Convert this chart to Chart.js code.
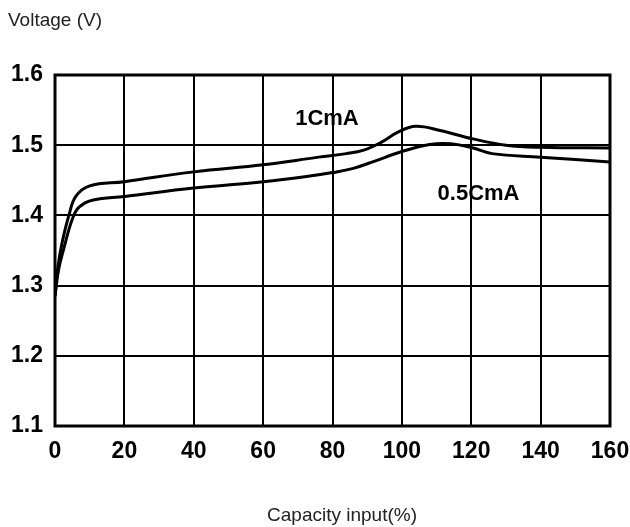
<!DOCTYPE html>
<html>
<head>
<meta charset="utf-8">
<script src="https://cdn.jsdelivr.net/npm/chart.js@4"></script>
<style>
html,body{margin:0;padding:0;background:#fff;}
#wrap{width:630px;height:527px;position:relative;}
</style>
</head>
<body>
<div id="wrap"><canvas id="c" width="630" height="527"></canvas></div>
<script>
// ---- data ----
const xTicks = [0, 20, 40, 60, 80, 100, 120, 140, 160];
const yTicks = [1.1, 1.2, 1.3, 1.4, 1.5, 1.6];

const cap1C = [0, 0.8, 2.0, 4.0, 6.0, 10, 20, 40, 60, 76, 84, 89, 94, 99, 104, 111, 120.5, 130, 140, 160];
const volt1C = [1.285, 1.325, 1.360, 1.400, 1.427, 1.442, 1.448, 1.462, 1.472, 1.483, 1.488, 1.493, 1.504, 1.519, 1.527, 1.521, 1.509, 1.500, 1.497, 1.496];

const cap05C = [0, 1.0, 2.5, 5.0, 7.0, 11, 20, 40, 60, 72, 80, 86, 92, 100, 108, 114, 120.5, 126, 140, 160];
const volt05C = [1.285, 1.322, 1.352, 1.395, 1.412, 1.422, 1.427, 1.439, 1.448, 1.455, 1.461, 1.467, 1.477, 1.491, 1.501, 1.502, 1.496, 1.488, 1.483, 1.476];

const seriesLabels = ['1CmA', '0.5CmA'];
const axisTitleY = 'Voltage (V)';
const axisTitleX = 'Capacity input(%)';

const toPts = (xs, ys) => xs.map((x, i) => ({x: x, y: ys[i]}));
const FONT = '"Liberation Sans", Arial, sans-serif';

const textPlugin = {
  id: 'texts',
  afterDraw(chart) {
    const ctx = chart.ctx;
    const xs = chart.scales.x, ys = chart.scales.y;
    ctx.save();
    ctx.fillStyle = '#222';
    ctx.font = '19px ' + FONT;
    ctx.textAlign = 'left';
    ctx.textBaseline = 'middle';
    ctx.fillText(axisTitleY, 8, 21);
    ctx.textAlign = 'center';
    ctx.fillText(axisTitleX, 342, 516);
    // curve labels (positioned in data space)
    ctx.fillStyle = '#000';
    ctx.font = 'bold 22px ' + FONT;
    ctx.fillText(seriesLabels[0], xs.getPixelForValue(78.4), ys.getPixelForValue(1.537));
    ctx.fillText(seriesLabels[1], xs.getPixelForValue(122.1), ys.getPixelForValue(1.431));
    // outer frame
    const a = chart.chartArea;
    ctx.strokeStyle = '#000';
    ctx.lineWidth = 3;
    ctx.strokeRect(a.left, a.top, a.right - a.left, a.bottom - a.top);
    ctx.restore();
  }
};

new Chart(document.getElementById('c'), {
  type: 'line',
  data: {
    datasets: [
      {label: seriesLabels[0], data: toPts(cap1C, volt1C), borderColor: '#000', borderWidth: 3, pointRadius: 0, tension: 0.4, fill: false},
      {label: seriesLabels[1], data: toPts(cap05C, volt05C), borderColor: '#000', borderWidth: 3, pointRadius: 0, tension: 0.4, fill: false}
    ]
  },
  options: {
    responsive: false,
    animation: false,
    layout: {padding: {top: 75, right: 20, left: 0, bottom: 0}},
    plugins: {legend: {display: false}, tooltip: {enabled: false}},
    scales: {
      x: {
        type: 'linear', min: 0, max: 160,
        afterBuildTicks(s) { s.ticks = xTicks.map(v => ({value: v})); },
        afterFit(s) { s.height = 101; s.paddingLeft = 0; s.paddingRight = 0; },
        grid: {color: '#000', lineWidth: 2, drawTicks: false},
        border: {display: false},
        ticks: {color: '#000', padding: 12, maxRotation: 0, font: {family: FONT, size: 23, weight: 'bold'}}
      },
      y: {
        type: 'linear', min: 1.1, max: 1.6,
        afterBuildTicks(s) { s.ticks = yTicks.map(v => ({value: v})); },
        afterFit(s) { s.width = 55; s.paddingTop = 0; s.paddingBottom = 0; },
        grid: {color: '#000', lineWidth: 2, drawTicks: false},
        border: {display: false},
        ticks: {color: '#000', padding: 12, font: {family: FONT, size: 23, weight: 'bold'}, callback: v => v.toFixed(1)}
      }
    }
  },
  plugins: [textPlugin]
});
</script>
</body>
</html>
